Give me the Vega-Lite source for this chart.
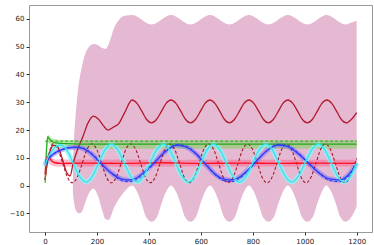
{
  "$schema": "https://vega.github.io/schema/vega-lite/v6.json",
  "width": 343,
  "height": 227,
  "autosize": "none",
  "padding": {"left": 29, "top": 5, "right": 2, "bottom": 13},
  "config": {
    "view": {"stroke": "#999", "strokeWidth": 1},
    "axis": {"grid": false, "domain": false, "labelFont": "DejaVu Sans", "labelFontSize": 7, "labelColor": "#222", "tickColor": "#333", "tickSize": 3, "labelPadding": 2, "labelOverlap": false, "labelFlush": false}
  },
  "datasets": {
    "pink": [
      {"x":107,"lo":-2,"hi":8},{"x":110,"lo":-5,"hi":15},{"x":114,"lo":-7.5,"hi":21},{"x":119,"lo":-9,"hi":27},{"x":125,"lo":-9.8,"hi":33},{"x":132,"lo":-10,"hi":38},{"x":142,"lo":-9.3,"hi":43},{"x":155,"lo":-6,"hi":47.5},{"x":170,"lo":-2.5,"hi":50},{"x":186,"lo":-1,"hi":51},{"x":205,"lo":-4,"hi":50.5},{"x":220,"lo":-9,"hi":49.5},{"x":232,"lo":-12,"hi":49.2},{"x":245,"lo":-12.4,"hi":51},{"x":265,"lo":-8,"hi":56.5},{"x":290,"lo":-4,"hi":60.2},{"x":312,"lo":-1.5,"hi":61.2},
      {"x":335,"lo":0,"hi":61.4},{"x":353,"lo":-2,"hi":60.9},{"x":370,"lo":-6,"hi":59.9},{"x":390,"lo":-11.5,"hi":58.6},{"x":410,"lo":-13,"hi":58},{"x":430,"lo":-11.5,"hi":58.6},{"x":450,"lo":-6,"hi":59.9},{"x":467,"lo":-2,"hi":60.9},
      {"x":485,"lo":0,"hi":61.4},{"x":503,"lo":-2,"hi":60.9},{"x":520,"lo":-6,"hi":59.9},{"x":540,"lo":-11.5,"hi":58.6},{"x":560,"lo":-13,"hi":58},{"x":580,"lo":-11.5,"hi":58.6},{"x":600,"lo":-6,"hi":59.9},{"x":617,"lo":-2,"hi":60.9},
      {"x":635,"lo":0,"hi":61.4},{"x":653,"lo":-2,"hi":60.9},{"x":670,"lo":-6,"hi":59.9},{"x":690,"lo":-11.5,"hi":58.6},{"x":710,"lo":-13,"hi":58},{"x":730,"lo":-11.5,"hi":58.6},{"x":750,"lo":-6,"hi":59.9},{"x":767,"lo":-2,"hi":60.9},
      {"x":785,"lo":0,"hi":61.4},{"x":803,"lo":-2,"hi":60.9},{"x":820,"lo":-6,"hi":59.9},{"x":840,"lo":-11.5,"hi":58.6},{"x":860,"lo":-13,"hi":58},{"x":880,"lo":-11.5,"hi":58.6},{"x":900,"lo":-6,"hi":59.9},{"x":917,"lo":-2,"hi":60.9},
      {"x":935,"lo":0,"hi":61.4},{"x":953,"lo":-2,"hi":60.9},{"x":970,"lo":-6,"hi":59.9},{"x":990,"lo":-11.5,"hi":58.6},{"x":1010,"lo":-13,"hi":58},{"x":1030,"lo":-11.5,"hi":58.6},{"x":1050,"lo":-6,"hi":59.9},{"x":1067,"lo":-2,"hi":60.9},
      {"x":1083,"lo":0,"hi":61.4},{"x":1101,"lo":-2,"hi":60.9},{"x":1118,"lo":-6,"hi":59.9},{"x":1138,"lo":-11.5,"hi":58.6},{"x":1158,"lo":-13,"hi":58},{"x":1178,"lo":-11.5,"hi":58.6},{"x":1200,"lo":-7.5,"hi":59.4}
    ],
    "greenband": [
      {"x":2,"lo":8,"hi":14},{"x":6,"lo":12,"hi":17},{"x":12,"lo":15.3,"hi":18.2},{"x":25,"lo":14.3,"hi":17},{"x":50,"lo":13.5,"hi":16.5},{"x":200,"lo":13.3,"hi":16.3},{"x":1200,"lo":13.3,"hi":16.3}
    ],
    "redband": [
      {"x":8,"lo":8.5,"hi":11.5},{"x":25,"lo":7.3,"hi":10},{"x":40,"lo":6.9,"hi":9.4},{"x":1200,"lo":6.9,"hi":9.3}
    ],
    "darkred": [
      {"x":0,"y":2},{"x":8,"y":8},{"x":18,"y":12},{"x":32,"y":14.5},{"x":48,"y":14},{"x":65,"y":10},{"x":82,"y":5},{"x":96,"y":3.5},{"x":108,"y":8},{"x":125,"y":13},{"x":145,"y":17.5},{"x":165,"y":22.5},{"x":186,"y":25},{"x":205,"y":24},{"x":225,"y":21.5},{"x":242,"y":20},{"x":262,"y":21},{"x":285,"y":22.5},{"x":305,"y":26},
      {"x":335,"y":30.8},{"x":354,"y":29.6},{"x":373,"y":26.7},{"x":391,"y":23.8},{"x":410,"y":22.6},{"x":429,"y":23.8},{"x":448,"y":26.7},{"x":466,"y":29.6},
      {"x":485,"y":30.8},{"x":504,"y":29.6},{"x":523,"y":26.7},{"x":541,"y":23.8},{"x":560,"y":22.6},{"x":579,"y":23.8},{"x":598,"y":26.7},{"x":616,"y":29.6},
      {"x":635,"y":30.8},{"x":654,"y":29.6},{"x":673,"y":26.7},{"x":691,"y":23.8},{"x":710,"y":22.6},{"x":729,"y":23.8},{"x":748,"y":26.7},{"x":766,"y":29.6},
      {"x":785,"y":30.8},{"x":804,"y":29.6},{"x":823,"y":26.7},{"x":841,"y":23.8},{"x":860,"y":22.6},{"x":879,"y":23.8},{"x":898,"y":26.7},{"x":916,"y":29.6},
      {"x":935,"y":30.8},{"x":954,"y":29.6},{"x":973,"y":26.7},{"x":991,"y":23.8},{"x":1010,"y":22.6},{"x":1029,"y":23.8},{"x":1048,"y":26.7},{"x":1066,"y":29.6},
      {"x":1085,"y":30.8},{"x":1104,"y":29.6},{"x":1123,"y":26.7},{"x":1141,"y":23.8},{"x":1160,"y":22.6},{"x":1179,"y":23.8},{"x":1200,"y":26.3}
    ],
    "darkreddash": [
      {"x":0,"y":2},{"x":8,"y":8},{"x":18,"y":12.5},{"x":30,"y":15},{"x":49,"y":13},{"x":68,"y":8},{"x":86,"y":3},{"x":105,"y":1},{"x":124,"y":3},{"x":143,"y":8},{"x":161,"y":13},
      {"x":180,"y":15},{"x":199,"y":13},{"x":218,"y":8},{"x":236,"y":3},{"x":255,"y":1},{"x":274,"y":3},{"x":293,"y":8},{"x":311,"y":13},
      {"x":330,"y":15},{"x":349,"y":13},{"x":368,"y":8},{"x":386,"y":3},{"x":405,"y":1},{"x":424,"y":3},{"x":443,"y":8},{"x":461,"y":13},
      {"x":480,"y":15},{"x":499,"y":13},{"x":518,"y":8},{"x":536,"y":3},{"x":555,"y":1},{"x":574,"y":3},{"x":593,"y":8},{"x":611,"y":13},
      {"x":630,"y":15},{"x":649,"y":13},{"x":668,"y":8},{"x":686,"y":3},{"x":705,"y":1},{"x":724,"y":3},{"x":743,"y":8},{"x":761,"y":13},
      {"x":780,"y":15},{"x":799,"y":13},{"x":818,"y":8},{"x":836,"y":3},{"x":855,"y":1},{"x":874,"y":3},{"x":893,"y":8},{"x":911,"y":13},
      {"x":930,"y":15},{"x":949,"y":13},{"x":968,"y":8},{"x":986,"y":3},{"x":1005,"y":1},{"x":1024,"y":3},{"x":1043,"y":8},{"x":1061,"y":13},
      {"x":1080,"y":15},{"x":1099,"y":13},{"x":1118,"y":8},{"x":1136,"y":3},{"x":1155,"y":1},{"x":1174,"y":3},{"x":1193,"y":8},{"x":1200,"y":9.8}
    ],
    "green": [
      {"x":0,"y":1},{"x":4,"y":10},{"x":10,"y":17.6},{"x":16,"y":16.8},{"x":25,"y":16},{"x":40,"y":15.4},{"x":80,"y":15.1},{"x":200,"y":14.9},{"x":1200,"y":14.9}
    ],
    "greendash": [
      {"x":0,"y":16},{"x":1200,"y":16}
    ],
    "red": [
      {"x":0,"y":4},{"x":5,"y":9.5},{"x":12,"y":10.5},{"x":22,"y":9.2},{"x":35,"y":8.3},{"x":60,"y":8},{"x":150,"y":8.1},{"x":300,"y":8},{"x":450,"y":8.2},{"x":600,"y":8},{"x":750,"y":8.1},{"x":900,"y":8},{"x":1050,"y":8.1},{"x":1200,"y":8}
    ],
    "blue": [
      {"x":0,"y":7.5},{"x":10,"y":9.5},{"x":30,"y":11.3},{"x":60,"y":12.8},{"x":90,"y":13.6},{"x":120,"y":13.8},{"x":150,"y":13.2},{"x":180,"y":11.3},{"x":220,"y":7.5},{"x":260,"y":4.2},{"x":290,"y":2.5},{"x":320,"y":2},{"x":350,"y":2.6},{"x":390,"y":5.5},{"x":420,"y":8.2},{"x":460,"y":12},{"x":507,"y":14.5},{"x":540,"y":14},{"x":580,"y":11.5},{"x":615,"y":8},{"x":650,"y":4.5},{"x":685,"y":2.4},{"x":712,"y":2},{"x":745,"y":2.8},{"x":780,"y":5.5},{"x":820,"y":9.5},{"x":860,"y":13},{"x":898,"y":14.6},{"x":935,"y":14},{"x":975,"y":11.5},{"x":1015,"y":8},{"x":1055,"y":4.6},{"x":1095,"y":2.4},{"x":1136,"y":2},{"x":1165,"y":3.5},{"x":1200,"y":8}
    ],
    "bluedash": [
      {"x":0,"y":7},{"x":10,"y":9},{"x":30,"y":11},{"x":60,"y":12.6},{"x":90,"y":13.5},{"x":120,"y":13.9},{"x":150,"y":13.4},{"x":180,"y":11.6},{"x":220,"y":7.8},{"x":260,"y":4},{"x":290,"y":2},{"x":320,"y":1.4},{"x":350,"y":2},{"x":390,"y":5},{"x":420,"y":8},{"x":460,"y":12.2},{"x":507,"y":14.7},{"x":540,"y":14.3},{"x":580,"y":11.8},{"x":615,"y":8.2},{"x":650,"y":4.3},{"x":685,"y":1.9},{"x":715,"y":1.4},{"x":745,"y":2.2},{"x":780,"y":5},{"x":820,"y":9.4},{"x":860,"y":13.1},{"x":898,"y":14.8},{"x":935,"y":14.3},{"x":975,"y":11.8},{"x":1015,"y":8.2},{"x":1055,"y":4.4},{"x":1095,"y":1.9},{"x":1136,"y":1.4},{"x":1165,"y":3},{"x":1200,"y":7.6}
    ],
    "cyan": [
      {"x":0,"y":7},{"x":8,"y":9.5},{"x":20,"y":11.5},{"x":35,"y":13.5},{"x":58,"y":14.6},{"x":83,"y":12.9},{"x":108,"y":8.1},{"x":133,"y":3.3},{"x":158,"y":1.3},{"x":182,"y":3.3},{"x":206,"y":8.1},{"x":231,"y":12.9},
      {"x":255,"y":14.9},{"x":280,"y":12.9},{"x":305,"y":8.1},{"x":330,"y":3.3},{"x":355,"y":1.3},{"x":379,"y":3.3},{"x":404,"y":8.1},{"x":430,"y":12.9},
      {"x":455,"y":14.9},{"x":479,"y":12.9},{"x":503,"y":8.1},{"x":528,"y":3.3},{"x":552,"y":1.3},{"x":576,"y":3.3},{"x":600,"y":8.1},{"x":624,"y":12.9},
      {"x":648,"y":14.9},{"x":673,"y":12.9},{"x":698,"y":8.1},{"x":723,"y":3.3},{"x":748,"y":1.3},{"x":774,"y":3.3},{"x":799,"y":8.1},{"x":825,"y":12.9},
      {"x":850,"y":14.9},{"x":875,"y":12.9},{"x":900,"y":8.1},{"x":925,"y":3.3},{"x":950,"y":1.3},{"x":975,"y":3.3},{"x":1001,"y":8.1},{"x":1027,"y":12.9},
      {"x":1052,"y":14.9},{"x":1077,"y":12.9},{"x":1102,"y":8.1},{"x":1127,"y":3.3},{"x":1152,"y":1.3},{"x":1176,"y":3.3},{"x":1200,"y":8.1}
    ]
  },
  "encoding": {
    "x": {"field": "x", "type": "quantitative", "scale": {"domain": [-62, 1259], "nice": false, "zero": false}, "axis": {"title": null, "format": "d", "values": [0, 200, 400, 600, 800, 1000, 1200]}},
    "y": {"field": "y", "type": "quantitative", "scale": {"domain": [-16.7, 65], "nice": false, "zero": false}, "axis": {"title": null, "values": [-10, 0, 10, 20, 30, 40, 50, 60], "labelOverlap": false, "tickCount": 8}}
  },
  "layer": [
    {"data": {"name": "pink"}, "mark": {"type": "area", "color": "#e6b9d3", "opacity": 1, "interpolate": "monotone"},
     "encoding": {"y": {"field": "lo", "type": "quantitative", "scale": {"domain": [-16.7, 65], "nice": false, "zero": false}, "axis": {"title": null, "values": [-10, 0, 10, 20, 30, 40, 50, 60], "labelOverlap": false}}, "y2": {"field": "hi"}}},
    {"data": {"name": "greenband"}, "mark": {"type": "area", "color": "#7cd35a", "opacity": 0.55, "interpolate": "monotone"},
     "encoding": {"y": {"field": "lo", "type": "quantitative", "axis": {"title": null, "values": [-10, 0, 10, 20, 30, 40, 50, 60], "labelOverlap": false}}, "y2": {"field": "hi"}}},
    {"data": {"name": "redband"}, "mark": {"type": "area", "color": "#ff4d80", "opacity": 0.4, "interpolate": "monotone"},
     "encoding": {"y": {"field": "lo", "type": "quantitative", "axis": {"title": null, "values": [-10, 0, 10, 20, 30, 40, 50, 60], "labelOverlap": false}}, "y2": {"field": "hi"}}},
    {"data": {"name": "blue"}, "mark": {"type": "line", "color": "#7a6cff", "opacity": 0.5, "strokeWidth": 5, "interpolate": "monotone"}},
    {"data": {"name": "cyan"}, "mark": {"type": "line", "color": "#8ff3f7", "opacity": 0.7, "strokeWidth": 5, "interpolate": "monotone"}},
    {"data": {"name": "darkreddash"}, "mark": {"type": "line", "color": "#a8182a", "strokeWidth": 1.1, "strokeDash": [3, 2], "interpolate": "monotone"}},
    {"data": {"name": "darkred"}, "mark": {"type": "line", "color": "#b3182c", "strokeWidth": 1.3, "interpolate": "monotone"}},
    {"data": {"name": "green"}, "mark": {"type": "line", "color": "#22a822", "strokeWidth": 1.2, "interpolate": "monotone"}},
    {"data": {"name": "greendash"}, "mark": {"type": "line", "color": "#22a822", "strokeWidth": 1, "strokeDash": [3, 2]}},
    {"data": {"name": "red"}, "mark": {"type": "line", "color": "#ff1020", "strokeWidth": 1.4, "interpolate": "monotone"}},
    {"data": {"name": "bluedash"}, "mark": {"type": "line", "color": "#2a3cf0", "strokeWidth": 1, "strokeDash": [3, 2], "interpolate": "monotone"}},
    {"data": {"name": "blue"}, "mark": {"type": "line", "color": "#2f3ff5", "strokeWidth": 1.4, "interpolate": "monotone"}},
    {"data": {"name": "cyan"}, "mark": {"type": "line", "color": "#3fe3ef", "strokeWidth": 1.4, "interpolate": "monotone"}}
  ]
}
